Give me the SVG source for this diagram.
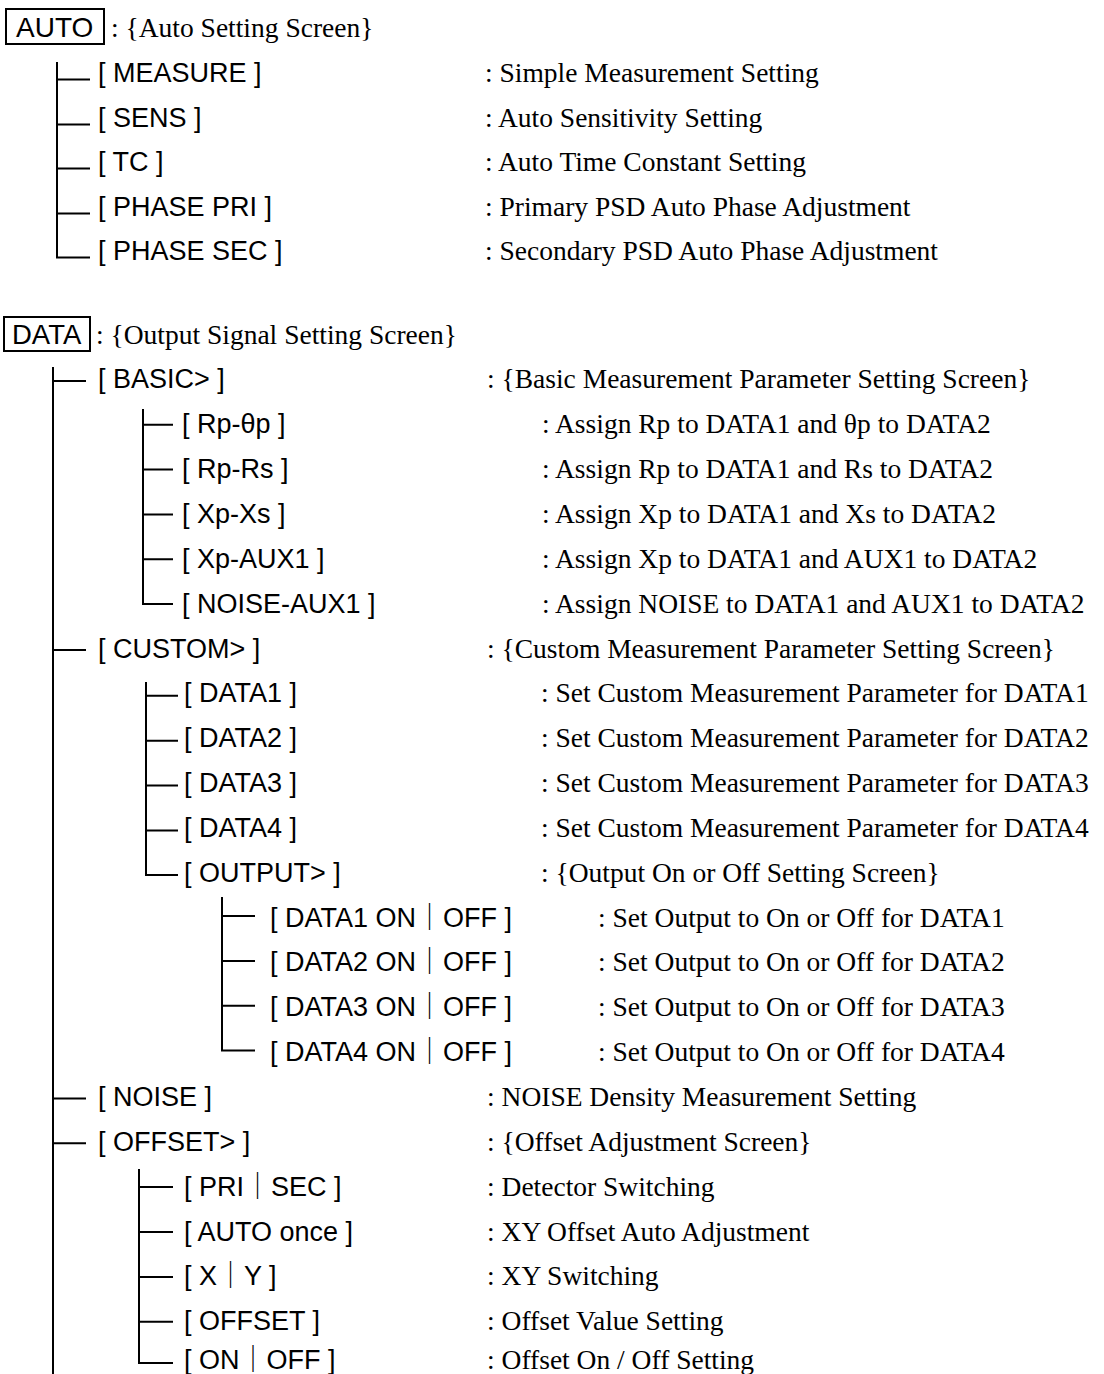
<svg xmlns="http://www.w3.org/2000/svg" width="1104" height="1374" viewBox="0 0 1104 1374">
<style>
.lbl{font-family:"Liberation Sans","Noto Sans CJK JP",Arial,sans-serif;font-size:27px;fill:#000}
.key{font-family:"Liberation Sans",Arial,sans-serif;font-size:28px;fill:#000}
.desc{font-family:"Liberation Serif","Times New Roman",serif;font-size:27.5px;fill:#000}
.ln{stroke:#000;stroke-width:2;fill:none}
.box{stroke:#000;stroke-width:2;fill:none}
</style>
<rect width="1104" height="1374" fill="#fff"/>
<g id="connectors">
  <path class="ln" d="M57 62 V257.5 H90 M57 79.5 H90 M57 124.5 H90 M57 168.5 H90 M57 213.5 H90"/>
  <path class="ln" d="M53 367 V1374 M53 381 H86 M53 650 H86 M53 1098.5 H86 M53 1143.3 H86"/>
  <path class="ln" d="M143 409 V604 H173 M143 424.7 H173 M143 469.6 H173 M143 514.4 H173 M143 559.3 H173"/>
  <path class="ln" d="M146 682 V875 H178 M146 695.8 H178 M146 740.7 H178 M146 785.5 H178 M146 830.4 H178"/>
  <path class="ln" d="M222 897 V1050.6 H255 M222 916 H255 M222 960.9 H255 M222 1005.8 H255"/>
  <path class="ln" d="M139 1169 V1363 H173 M139 1187 H173 M139 1232 H173 M139 1276.9 H173 M139 1321.7 H173"/>
</g>
<g id="auto">
  <rect class="box" x="6" y="9" width="98" height="35"/>
  <text class="key" x="16" y="37">AUTO</text>
  <text class="desc" x="111" y="37">: {Auto Setting Screen}</text>
</g>
<g id="measure"><text class="lbl" x="98" y="81.5">[ MEASURE ]</text><text class="desc" x="485" y="81.5">: Simple Measurement Setting</text></g>
<g id="sens"><text class="lbl" x="98" y="126.5">[ SENS ]</text><text class="desc" x="485" y="126.5">: Auto Sensitivity Setting</text></g>
<g id="tc"><text class="lbl" x="98" y="170.5">[ TC ]</text><text class="desc" x="485" y="170.5">: Auto Time Constant Setting</text></g>
<g id="phase-pri"><text class="lbl" x="98" y="215.5">[ PHASE PRI ]</text><text class="desc" x="485" y="215.5">: Primary PSD Auto Phase Adjustment</text></g>
<g id="phase-sec"><text class="lbl" x="98" y="259.5">[ PHASE SEC ]</text><text class="desc" x="485" y="259.5">: Secondary PSD Auto Phase Adjustment</text></g>

<g id="data">
  <rect class="box" x="4" y="317" width="86" height="34"/>
  <text class="key" x="12" y="344" style="font-size:27.5px">DATA</text>
  <text class="desc" x="96" y="344">: {Output Signal Setting Screen}</text>
</g>
<g id="basic"><text class="lbl" x="98" y="388.4">[ BASIC&gt; ]</text><text class="desc" x="487" y="388.4">: {Basic Measurement Parameter Setting Screen}</text></g>
<g id="rp-thp"><text class="lbl" x="182" y="433.2">[ Rp-θp ]</text><text class="desc" x="542" y="433.2">: Assign Rp to DATA1 and θp to DATA2</text></g>
<g id="rp-rs"><text class="lbl" x="182" y="478.1">[ Rp-Rs ]</text><text class="desc" x="542" y="478.1">: Assign Rp to DATA1 and Rs to DATA2</text></g>
<g id="xp-xs"><text class="lbl" x="182" y="522.9">[ Xp-Xs ]</text><text class="desc" x="542" y="522.9">: Assign Xp to DATA1 and Xs to DATA2</text></g>
<g id="xp-aux1"><text class="lbl" x="182" y="567.8">[ Xp-AUX1 ]</text><text class="desc" x="542" y="567.8">: Assign Xp to DATA1 and AUX1 to DATA2</text></g>
<g id="noise-aux1"><text class="lbl" x="182" y="612.6">[ NOISE-AUX1 ]</text><text class="desc" x="542" y="612.6">: Assign NOISE to DATA1 and AUX1 to DATA2</text></g>
<g id="custom"><text class="lbl" x="98" y="657.5">[ CUSTOM&gt; ]</text><text class="desc" x="487" y="657.5">: {Custom Measurement Parameter Setting Screen}</text></g>
<g id="data1"><text class="lbl" x="184" y="702.3">[ DATA1 ]</text><text class="desc" x="541" y="702.3">: Set Custom Measurement Parameter for DATA1</text></g>
<g id="data2"><text class="lbl" x="184" y="747.2">[ DATA2 ]</text><text class="desc" x="541" y="747.2">: Set Custom Measurement Parameter for DATA2</text></g>
<g id="data3"><text class="lbl" x="184" y="792">[ DATA3 ]</text><text class="desc" x="541" y="792">: Set Custom Measurement Parameter for DATA3</text></g>
<g id="data4"><text class="lbl" x="184" y="836.9">[ DATA4 ]</text><text class="desc" x="541" y="836.9">: Set Custom Measurement Parameter for DATA4</text></g>
<g id="output"><text class="lbl" x="184" y="881.7">[ OUTPUT&gt; ]</text><text class="desc" x="541" y="881.7">: {Output On or Off Setting Screen}</text></g>
<g id="data1-onoff"><text class="lbl" x="270" y="926.5">[ DATA1 ON｜OFF ]</text><text class="desc" x="598" y="926.5">: Set Output to On or Off for DATA1</text></g>
<g id="data2-onoff"><text class="lbl" x="270" y="971.4">[ DATA2 ON｜OFF ]</text><text class="desc" x="598" y="971.4">: Set Output to On or Off for DATA2</text></g>
<g id="data3-onoff"><text class="lbl" x="270" y="1016.3">[ DATA3 ON｜OFF ]</text><text class="desc" x="598" y="1016.3">: Set Output to On or Off for DATA3</text></g>
<g id="data4-onoff"><text class="lbl" x="270" y="1061.1">[ DATA4 ON｜OFF ]</text><text class="desc" x="598" y="1061.1">: Set Output to On or Off for DATA4</text></g>
<g id="noise"><text class="lbl" x="98" y="1106">[ NOISE ]</text><text class="desc" x="487" y="1106">: NOISE Density Measurement Setting</text></g>
<g id="offset-screen"><text class="lbl" x="98" y="1150.8">[ OFFSET&gt; ]</text><text class="desc" x="487" y="1150.8">: {Offset Adjustment Screen}</text></g>
<g id="pri-sec"><text class="lbl" x="184" y="1195.5">[ PRI｜SEC ]</text><text class="desc" x="487" y="1195.5">: Detector Switching</text></g>
<g id="auto-once"><text class="lbl" x="184" y="1240.5">[ AUTO once ]</text><text class="desc" x="487" y="1240.5">: XY Offset Auto Adjustment</text></g>
<g id="x-y"><text class="lbl" x="184" y="1285.4">[ X｜Y ]</text><text class="desc" x="487" y="1285.4">: XY Switching</text></g>
<g id="offset"><text class="lbl" x="184" y="1330.2">[ OFFSET ]</text><text class="desc" x="487" y="1330.2">: Offset Value Setting</text></g>
<g id="on-off"><text class="lbl" x="184" y="1369">[ ON｜OFF ]</text><text class="desc" x="487" y="1369">: Offset On / Off Setting</text></g>
</svg>
